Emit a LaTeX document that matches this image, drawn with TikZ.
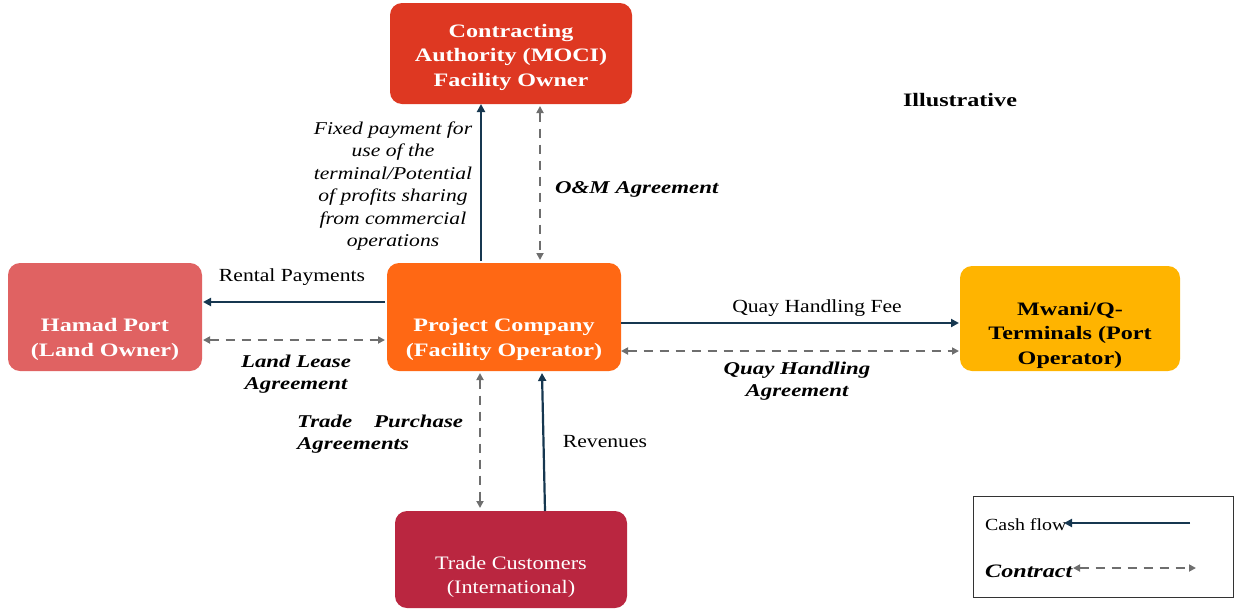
\documentclass[tikz,border=0pt]{standalone}
\usepackage{fontspec}
\setmainfont{Liberation Serif}
\newfontfamily\fN{Liberation Serif}[FakeStretch=1.17]
\newfontfamily\fB{Liberation Serif}[FakeStretch=1.27]
\newfontfamily\fI{Liberation Serif}[FakeStretch=1.2]
\usetikzlibrary{arrows.meta}
\definecolor{caRed}{RGB}{222,56,34}
\definecolor{hpPink}{RGB}{224,98,98}
\definecolor{pcOrange}{RGB}{255,104,20}
\definecolor{mwYellow}{RGB}{255,180,0}
\definecolor{tcRed}{RGB}{186,38,64}
\definecolor{cashNavy}{RGB}{22,55,80}
\definecolor{contractGray}{RGB}{110,110,110}
\tikzset{
  boxshape/.style={rounded corners=12pt, inner sep=0pt},
  boxtext/.style={inner sep=0pt, align=center, text=white,
    font=\fB\fontsize{19}{24.5}\selectfont\bfseries},
  cash/.style={draw=cashNavy, line width=2.2pt, -{Triangle[length=8pt,width=8pt]}},
  contract/.style={draw=contractGray, line width=2pt, dash pattern=on 9pt off 7pt,
    {Triangle[length=7pt,width=7pt]}-{Triangle[length=7pt,width=7pt]}},
  lbl/.style={font=\fN\fontsize{18.5}{22}\selectfont, align=center, inner sep=0pt, yshift=-2pt},
  lbli/.style={font=\fI\fontsize{18}{22.4}\selectfont\itshape, align=center, inner sep=0pt, yshift=-2pt},
  lblbi/.style={font=\fB\fontsize{18}{22}\selectfont\bfseries\itshape, align=center, inner sep=0pt, yshift=-2pt},
}
\begin{document}
\begin{tikzpicture}[x=1pt,y=-1pt]
\useasboundingbox (0,0) rectangle (1235,611);
% boxes
\node[boxshape, fill=caRed, minimum width=242pt, minimum height=101pt] (ca) at (511,53.5) {};
\node[boxtext] (caT) at ([yshift=-3.5pt]ca.center) {Contracting\\Authority (MOCI)\\Facility Owner};
\node[boxshape, fill=hpPink, minimum width=194pt, minimum height=108pt] (hp) at (105,317) {};
\node[boxtext] (hpT) at ([yshift=-22.5pt]hp.center) {Hamad Port\\(Land Owner)};
\node[boxshape, fill=pcOrange, minimum width=234pt, minimum height=108pt] (pc) at (504,317) {};
\node[boxtext] (pcT) at ([yshift=-22.5pt]pc.center) {Project Company\\(Facility Operator)};
\node[boxshape, fill=mwYellow, minimum width=220pt, minimum height=105pt] (mw) at (1070,318.5) {};
\node[boxtext, text=black] (mwT) at ([yshift=-16.5pt]mw.center) {Mwani/Q-\\Terminals (Port\\Operator)};
\node[boxshape, fill=tcRed, minimum width=232pt, minimum height=97pt] (tc) at (511,559.5) {};
\node[boxtext, font=\fN\fontsize{19}{24}\selectfont] (tcT) at ([yshift=-17pt]tc.center) {Trade Customers\\(International)};
% illustrative
\node[font=\fB\fontsize{19}{24}\selectfont\bfseries, inner sep=0pt] (ill) at (960,100) {Illustrative};
% connectors
\coordinate (caB1) at (481,104);
\coordinate (pcT1) at (481,261);
\draw[cash] (pcT1) -- (caB1);
\coordinate (caB2) at (540,106);
\coordinate (pcT2) at (540,260);
\draw[contract] (caB2) -- (pcT2);
\coordinate (pcL1) at (385,302);
\coordinate (hpR1) at (203,302);
\draw[cash] (pcL1) -- (hpR1);
\coordinate (hpR2) at (203,340);
\coordinate (pcL2) at (385,340);
\draw[contract] (hpR2) -- (pcL2);
\coordinate (pcR1) at (621,323);
\coordinate (mwL1) at (959,323);
\draw[cash] (pcR1) -- (mwL1);
\coordinate (pcR2) at (621,351);
\coordinate (mwL2) at (959,351);
\draw[contract] (pcR2) -- (mwL2);
\coordinate (pcB1) at (480,373);
\coordinate (tcT1) at (480,508);
\draw[contract] (pcB1) -- (tcT1);
\coordinate (tcT2) at (545,511);
\coordinate (pcB2) at (542,373);
\draw[cash] (tcT2) -- (pcB2);
% labels
\node[lbli] (fixed) at (393,184)
  {Fixed payment for\\use of the\\terminal/Potential\\of profits sharing\\from commercial\\operations};
\node[lblbi, anchor=west] (om) at (555,187) {O\&M Agreement};
\node[lbl] (rent) at (292,275) {Rental Payments};
\node[lblbi] (ll) at (296,372) {Land Lease\\Agreement};
\node[lbl] (qf) at (817,306) {Quay Handling Fee};
\node[lblbi] (qa) at (797,379) {Quay Handling\\Agreement};
\node[lblbi, align=left, anchor=west] (tp) at (297,432) {Trade\hspace{22pt}Purchase\\Agreements};
\node[lbl] (rev) at (605,440) {Revenues};
% legend
\node[draw=black!80, line width=1pt, minimum width=260pt, minimum height=101pt, inner sep=0pt] (leg) at (1103,546.5) {};
\node[lbl, font=\fN\fontsize{17}{20}\selectfont, anchor=west] (lcash) at (985,523) {Cash flow};
\coordinate (lc1) at (1190,523);
\coordinate (lc2) at (1064,523);
\draw[cash] (lc1) -- (lc2);
\node[lblbi, font=\fB\fontsize{19}{20}\selectfont\bfseries\itshape, anchor=west] (lcon) at (985,569) {Contract};
\coordinate (lk1) at (1073,568);
\coordinate (lk2) at (1196,568);
\draw[contract] (lk1) -- (lk2);
\end{tikzpicture}
\end{document}
